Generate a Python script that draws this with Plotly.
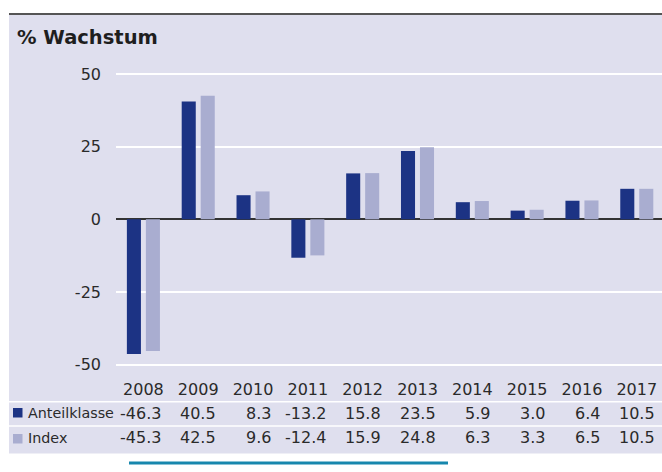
import plotly.graph_objects as go

years = ["2008", "2009", "2010", "2011", "2012", "2013", "2014", "2015", "2016", "2017"]
anteilklasse = [-46.3, 40.5, 8.3, -13.2, 15.8, 23.5, 5.9, 3.0, 6.4, 10.5]
index_vals = [-45.3, 42.5, 9.6, -12.4, 15.9, 24.8, 6.3, 3.3, 6.5, 10.5]
series_names = ["Anteilklasse", "Index"]
y_ticks = [-50, -25, 0, 25, 50]
y_ticktext = ["-50", "-25", "0", "25", "50"]
title_text = "% Wachstum"

W, H = 662, 472
L, R, T, B = 116, 0, 60, 100
PW, PH = W - L - R, H - T - B

def fx(px):
    return (px - L) / PW

def fy(py):
    return (H - B - py) / PH

DARK = "#1c3384"
LIGHT = "#a9add0"
BG = "#dfdfee"
TXT = "#2a2a2a"
FONT = "DejaVu Sans"

fig = go.Figure()
fig.add_trace(go.Bar(x=years, y=anteilklasse, name=series_names[0], marker_color=DARK,
                     marker_line_width=0))
fig.add_trace(go.Bar(x=years, y=index_vals, name=series_names[1], marker_color=LIGHT,
                     marker_line_width=0))

shapes = [
    dict(type="rect", xref="paper", yref="paper", x0=fx(9), x1=fx(662), y0=fy(453.5), y1=fy(14),
         fillcolor=BG, line_width=0, layer="below"),
    dict(type="line", xref="paper", yref="paper", x0=fx(9), x1=fx(662), y0=fy(14), y1=fy(14),
         line=dict(color="#555555", width=2), layer="above"),
    dict(type="line", xref="paper", yref="paper", x0=fx(9), x1=fx(662), y0=fy(401.7), y1=fy(401.7),
         line=dict(color="white", width=1.5), layer="above"),
    dict(type="line", xref="paper", yref="paper", x0=fx(9), x1=fx(662), y0=fy(426), y1=fy(426),
         line=dict(color="white", width=1.5), layer="above"),
    dict(type="rect", xref="paper", yref="paper", x0=fx(13), x1=fx(22.5), y0=fy(417.5), y1=fy(408),
         fillcolor=DARK, line_width=0, layer="above"),
    dict(type="rect", xref="paper", yref="paper", x0=fx(13), x1=fx(22.5), y0=fy(443.5), y1=fy(434),
         fillcolor=LIGHT, line_width=0, layer="above"),
    dict(type="line", xref="paper", yref="paper", x0=fx(129), x1=fx(448), y0=fy(463), y1=fy(463),
         line=dict(color="#1787ad", width=3), layer="above"),
]

annotations = [
    dict(text="<b>" + title_text + "</b>", xref="paper", yref="paper", x=fx(15), y=fy(37),
         xanchor="left", yanchor="middle", showarrow=False,
         font=dict(family=FONT, size=19.5, color="#1e1e1e")),
    dict(text=series_names[0], xref="paper", yref="paper", x=fx(26), y=fy(413),
         xanchor="left", yanchor="middle", showarrow=False,
         font=dict(family=FONT, size=14.3, color=TXT)),
    dict(text=series_names[1], xref="paper", yref="paper", x=fx(26), y=fy(438),
         xanchor="left", yanchor="middle", showarrow=False,
         font=dict(family=FONT, size=14.3, color=TXT)),
]
for i, (a, b) in enumerate(zip(anteilklasse, index_vals)):
    annotations.append(dict(text=f"{a:.1f}", xref="x", yref="paper", x=i, y=fy(413),
                            xanchor="right", yanchor="middle", xshift=20, showarrow=False,
                            font=dict(family=FONT, size=16, color=TXT)))
    annotations.append(dict(text=f"{b:.1f}", xref="x", yref="paper", x=i, y=fy(437.5),
                            xanchor="right", yanchor="middle", xshift=20, showarrow=False,
                            font=dict(family=FONT, size=16, color=TXT)))

fig.update_layout(
    width=W, height=H,
    margin=dict(l=L, r=R, t=T, b=B, pad=0),
    paper_bgcolor="white",
    plot_bgcolor="rgba(0,0,0,0)",
    barmode="group",
    bargap=0.307,
    bargroupgap=0.26,
    showlegend=False,
    shapes=shapes,
    annotations=annotations,
    font=dict(family=FONT, size=16, color=TXT),
)
fig.update_xaxes(type="category", range=[-0.5, 9.46], showgrid=False, zeroline=False,
                 showline=False, ticks="", ticklabelstandoff=6,
                 tickfont=dict(family=FONT, size=16, color=TXT))
fig.update_yaxes(range=[-52.5, 54.8], tickvals=y_ticks, ticktext=y_ticktext, showgrid=True,
                 gridcolor="white", gridwidth=1.5, zeroline=True, zerolinecolor="#333333",
                 zerolinewidth=1.5, showline=False, ticks="", ticklabelstandoff=14,
                 tickfont=dict(family=FONT, size=16, color=TXT))

fig.write_html("out.html", config={"displayModeBar": False},
               post_script="document.body.style.margin='0';document.body.style.overflow='hidden';")
